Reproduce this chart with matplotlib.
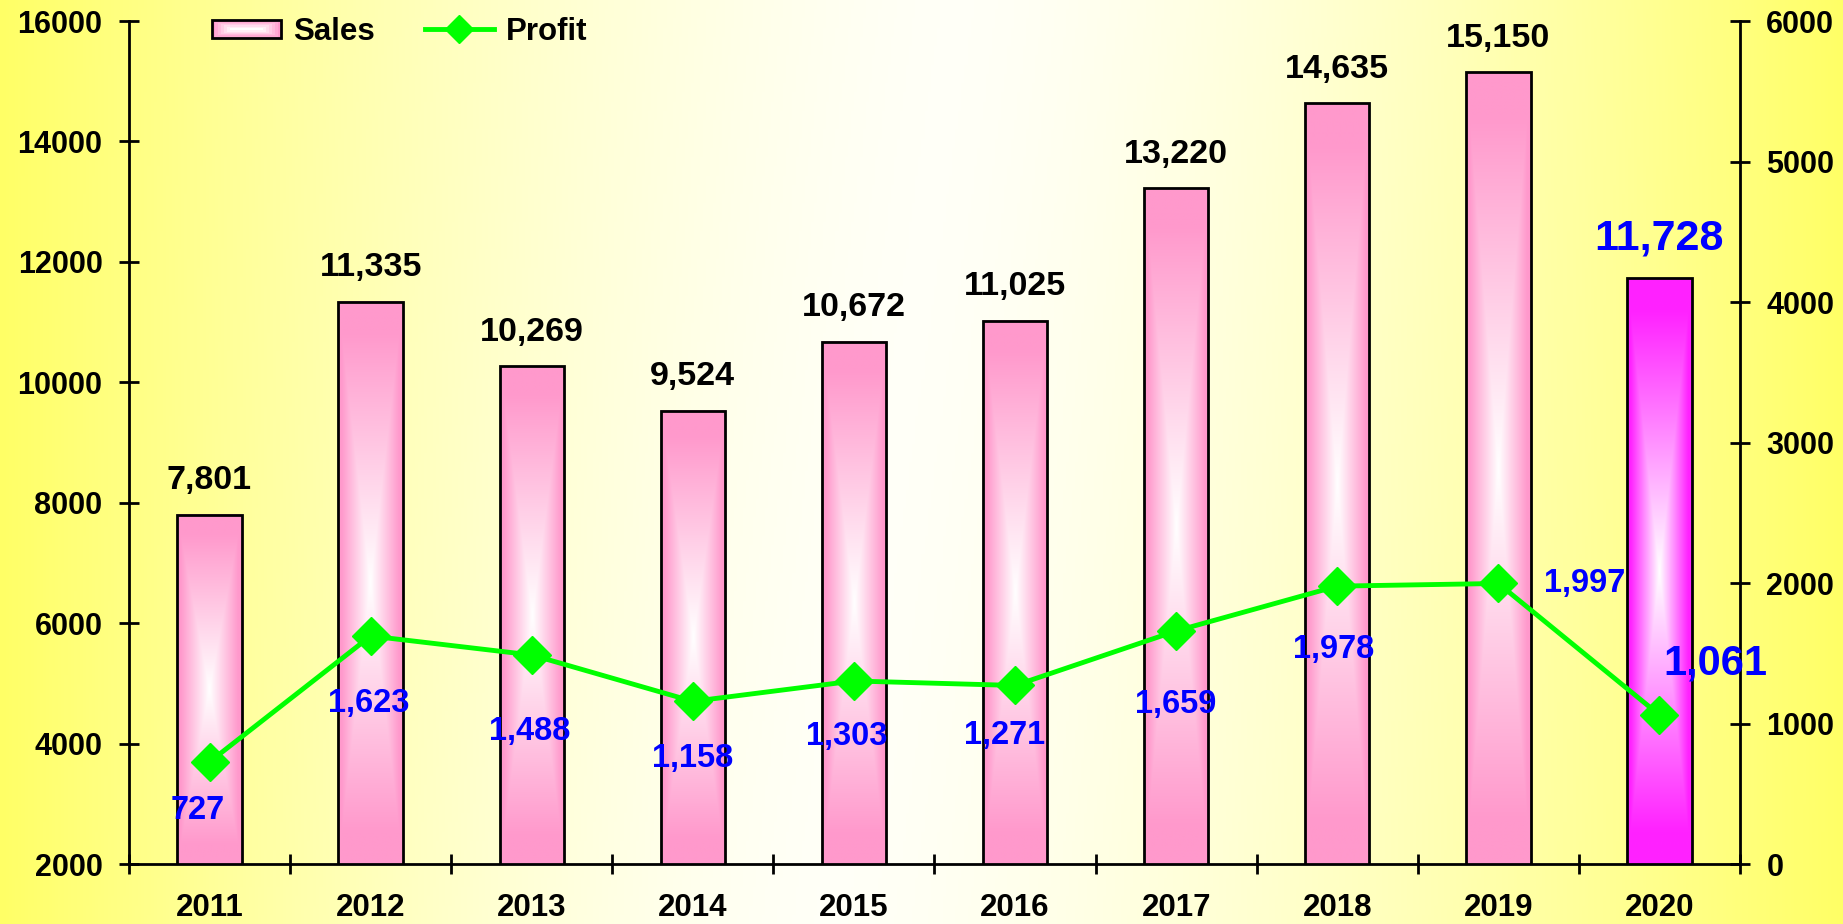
#====================================================================================
# Sales (bars, left axis) and Profit (line, right axis) 2011-2020
#====================================================================================
import numpy as np
import matplotlib
matplotlib.use('Agg')
import matplotlib.pyplot as plt
from matplotlib.patches import Rectangle
from matplotlib.lines import Line2D
from matplotlib.legend_handler import HandlerBase
from matplotlib.colors import to_rgb

#------------------------------------------------------------------------------------
# Data
#------------------------------------------------------------------------------------
years = ['2011', '2012', '2013', '2014', '2015', '2016', '2017', '2018', '2019', '2020']
sales = [7801, 11335, 10269, 9524, 10672, 11025, 13220, 14635, 15150, 11728]
profit = [727, 1623, 1488, 1158, 1303, 1271, 1659, 1978, 1997, 1061]

sales_ticks = list(range(2000, 16001, 2000))
profit_ticks = list(range(0, 6001, 1000))

#------------------------------------------------------------------------------------
# Styles
#------------------------------------------------------------------------------------
plt.rcParams['font.family'] = ['Liberation Sans', 'DejaVu Sans']
plt.rcParams['font.weight'] = 'bold'

pink = '#FF99CC'
magenta = '#FF22FF'
green = '#00FF00'
blue = '#0000FF'

# label offsets (pixels) for profit labels
profit_off = [(-12, -49), (-2, -67), (-2, -77), (0, -57), (-7, -56),
              (-10, -50), (0, -74), (-4, -63), (86, 0), (56, 51)]


def gradient_img(edge, n=120):
    # rectangular gradient from a white center to the edge colour
    u = np.linspace(-1, 1, n)
    U, V = np.meshgrid(u, u)
    t = np.clip(np.maximum(np.abs(U), np.abs(V)) * 1.12, 0, 1)
    c0 = np.array([1.0, 1.0, 1.0])
    c1 = np.array(to_rgb(edge))
    return c0 + (c1 - c0) * t[:, :, None]


class GradientHandler(HandlerBase):
    def create_artists(self, legend, orig_handle, xdescent, ydescent,
                       width, height, fontsize, trans):
        arts = []
        h = height * 0.8
        y0 = -ydescent + (height - h) / 2
        x0 = -xdescent
        n = 7
        c1 = np.array(to_rgb(pink))
        for k in range(n):
            f = k / n
            col = c1 + (np.ones(3) - c1) * (k / (n - 1))
            w = width * (1 - f * 0.6)
            hh = h * (1 - f)
            r = Rectangle((x0 + (width - w) / 2, y0 + (h - hh) / 2), w, hh,
                          facecolor=col, edgecolor='none', transform=trans)
            arts.append(r)
        arts.append(Rectangle((x0, y0), width, h, facecolor='none',
                              edgecolor='black', lw=2, transform=trans))
        return arts


#------------------------------------------------------------------------------------
# Figure + background
#------------------------------------------------------------------------------------
fig = plt.figure(figsize=(18.43, 9.24), dpi=100)

bg = fig.add_axes([0, 0, 1, 1], zorder=-10)
gx = np.linspace(0, 1, 600)
gy = np.linspace(0, 1, 100)
GX, GY = np.meshgrid(gx, gy)
cx = 0.45 + 0.07 * GY
t = np.where(GX < cx, (cx - GX) / cx, (GX - cx) / (1 - cx))
yellow = np.array([1.0, 1.0, 0.40])
white = np.array([1.0, 1.0, 0.97])
col = white + (yellow - white) * (t[:, :, None] ** 1.5)
bg.imshow(col, aspect='auto', extent=[0, 1, 0, 1], origin='lower')
bg.axis('off')

ax = fig.add_axes([0.0700, 0.0649, 0.8741, 0.9123])
ax.patch.set_alpha(0)
ax2 = ax.twinx()

x = np.arange(len(years))

#------------------------------------------------------------------------------------
# Bars
#------------------------------------------------------------------------------------
bars = ax.bar(x, sales, width=0.4, fill=False, edgecolor='black', lw=2, zorder=3)
for i, b in enumerate(bars):
    edge = magenta if i == len(bars) - 1 else pink
    x0 = b.get_x()
    ax.imshow(gradient_img(edge), extent=[x0, x0 + b.get_width(), 2000, b.get_height()],
              aspect='auto', zorder=2, interpolation='bilinear')
    if i == len(bars) - 1:
        ax.annotate(f'{sales[i]:,}', (x[i], sales[i]), xytext=(0, 40),
                    textcoords='offset pixels', ha='center', va='center',
                    fontsize=31, color=blue, weight='bold')
    else:
        ax.annotate(f'{sales[i]:,}', (x[i], sales[i]), xytext=(0, 34),
                    textcoords='offset pixels', ha='center', va='center',
                    fontsize=24.5, color='black', weight='bold')

#------------------------------------------------------------------------------------
# Profit line
#------------------------------------------------------------------------------------
ax2.plot(x, profit, color=green, lw=3.5, marker='D', ms=19, mec=green, mfc=green, zorder=4)
for i, p in enumerate(profit):
    fs = 30 if i == len(profit) - 1 else 23.5
    ax2.annotate(f'{p:,}', (x[i], p), xytext=profit_off[i], textcoords='offset pixels',
                 ha='center', va='center', fontsize=fs, color=blue, weight='bold',
                 zorder=5)

#------------------------------------------------------------------------------------
# Axes
#------------------------------------------------------------------------------------
ax.set_xlim(-0.5, len(years) - 0.5)
ax.set_ylim(2000, 16000)
ax2.set_ylim(0, 6000)
ax.set_yticks(sales_ticks)
ax.set_yticklabels([str(v) for v in sales_ticks])
ax2.set_yticks(profit_ticks)
ax2.set_yticklabels([str(v) for v in profit_ticks])

ax.set_xticks(np.arange(-0.5, len(years)), labels=[''] * (len(years) + 1))
ax.set_xticks(x, labels=years, minor=True)
ax.tick_params(axis='x', which='minor', length=0, pad=21, labelsize=22.5)
ax.tick_params(axis='x', which='major', direction='inout', length=14, width=2)
ax.tick_params(axis='y', direction='inout', length=14, width=2, pad=12, labelsize=22)
ax2.tick_params(axis='y', direction='inout', length=14, width=2, pad=12, labelsize=22)

for s in ['top', 'right']:
    ax.spines[s].set_visible(False)
for s in ['top', 'left', 'bottom']:
    ax2.spines[s].set_visible(False)
for s in ['left', 'bottom']:
    ax.spines[s].set_linewidth(2)
ax2.spines['right'].set_linewidth(2)

for lab in ax.get_xticklabels(minor=True) + ax.get_yticklabels() + ax2.get_yticklabels():
    lab.set_fontweight('bold')

#------------------------------------------------------------------------------------
# Legend
#------------------------------------------------------------------------------------
h_sales = Rectangle((0, 0), 1, 1)
h_profit = Line2D([], [], color=green, lw=3.5, marker='D', ms=14, mec=green, mfc=green)
leg = fig.legend([h_sales, h_profit], ['Sales', 'Profit'],
                 handler_map={Rectangle: GradientHandler()},
                 loc='upper left', bbox_to_anchor=(212 / 1843, 1 - 17 / 924),
                 bbox_transform=fig.transFigure, ncol=2, frameon=False,
                 borderpad=0, borderaxespad=0, handlelength=2.2,
                 handletextpad=0.4, columnspacing=1.6,
                 prop={'size': 22.5, 'weight': 'bold'})

plt.savefig('out.png', dpi=100)
plt.close('all')
